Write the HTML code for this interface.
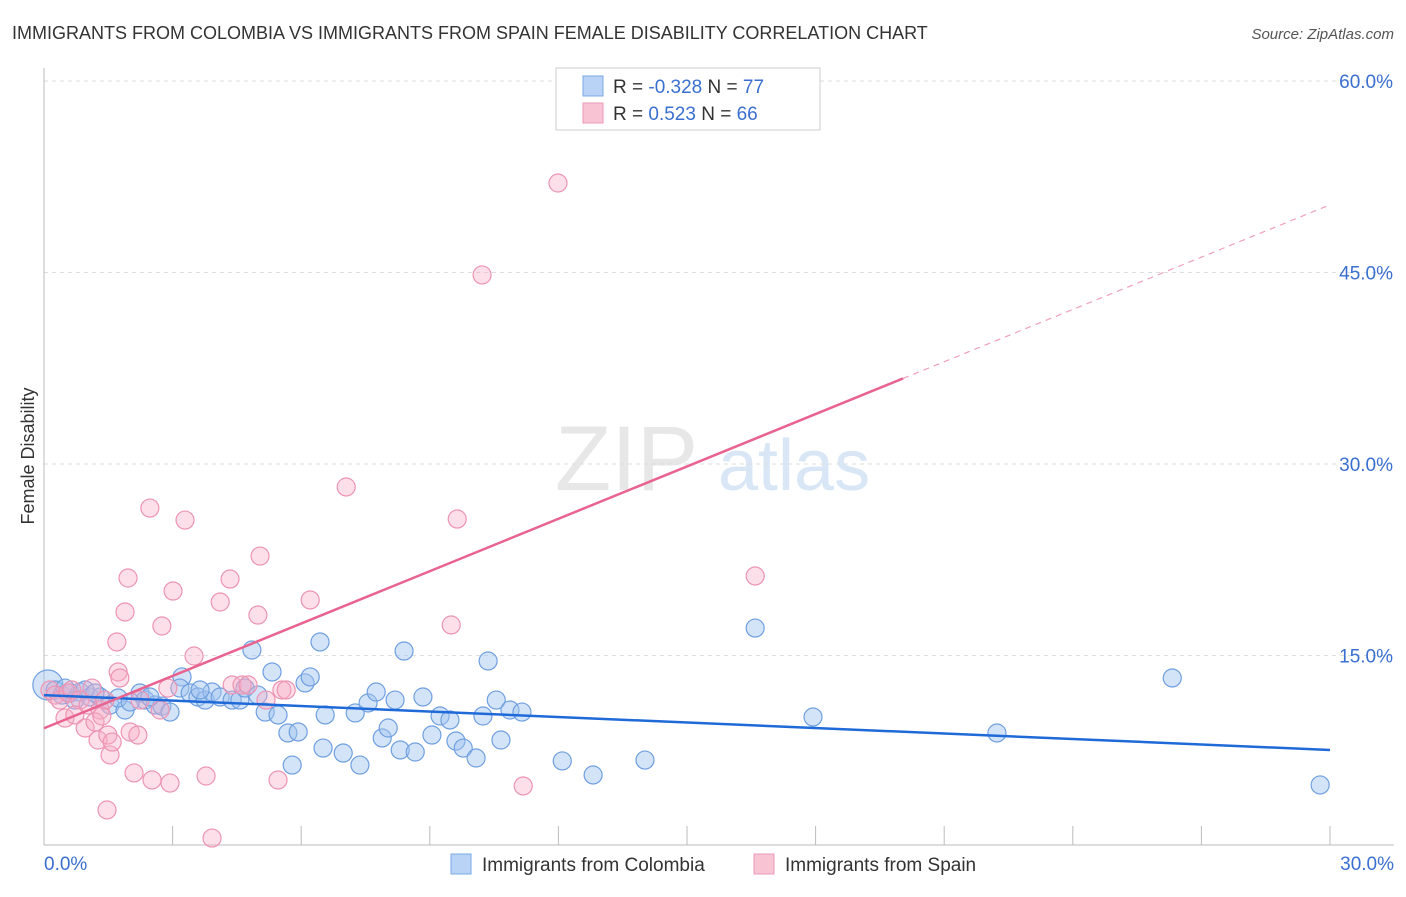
<!DOCTYPE html>
<html><head><meta charset="utf-8"><style>
body{margin:0;background:#fff;font-family:"Liberation Sans",sans-serif}
svg text{font-family:"Liberation Sans",sans-serif}
</style></head><body>
<svg id="c" width="1406" height="892" xmlns="http://www.w3.org/2000/svg">
<text x="12" y="39" font-size="18" fill="#333">IMMIGRANTS FROM COLOMBIA VS IMMIGRANTS FROM SPAIN FEMALE DISABILITY CORRELATION CHART</text>
<text x="1394" y="39" font-size="15" fill="#555" font-style="italic" text-anchor="end">Source: ZipAtlas.com</text>
<text x="34" y="456" font-size="18" fill="#333" text-anchor="middle" transform="rotate(-90 34 456)">Female Disability</text>
<g><text x="555" y="490" font-size="92" fill="#ddd" font-family="Liberation Serif" opacity="0.7">ZIP</text><text x="718" y="490" font-size="72" fill="#c9dcf3" opacity="0.7">atlas</text></g>
<g id="grid"></g><g id="axes"></g><g id="pts"></g><g id="lines"></g>
<g>
<rect x="556" y="68" width="264" height="62" fill="#fff" stroke="#ccc"/>
<rect x="583" y="76" width="20" height="20" fill="#b8d3f5" stroke="#7aa8e6"/>
<rect x="583" y="103" width="20" height="20" fill="#f8c3d3" stroke="#eb9ab5"/>
<text x="613" y="93" font-size="19" fill="#333">R = <tspan fill="#3a6fd0">-0.328</tspan>   N = <tspan fill="#3a6fd0">77</tspan></text>
<text x="613" y="120" font-size="19" fill="#333">R =  <tspan fill="#3a6fd0">0.523</tspan>   N = <tspan fill="#3a6fd0">66</tspan></text>
</g>
<g>
<rect x="451" y="854" width="20" height="20" fill="#b8d3f5" stroke="#7aa8e6"/>
<text x="482" y="871" font-size="19" fill="#333">Immigrants from Colombia</text>
<rect x="754" y="854" width="20" height="20" fill="#f8c3d3" stroke="#eb9ab5"/>
<text x="785" y="871" font-size="19" fill="#333">Immigrants from Spain</text>
</g>
</svg>
<script>
const yTicks=[15,30,45,60];
const xTickLabels=["0.0%","30.0%"];
const colX=[0.09,0.26,0.42,0.61,0.84,1.07,1.31,1.54,1.89,1.73,2.24,2.36,2.59,2.75,2.94,3.22,3.17,3.41,3.59,3.76,3.92,4.11,4.39,4.57,4.69,4.85,4.99,5.16,5.32,5.46,5.69,5.79,5.93,6.09,6.21,6.44,6.56,6.51,6.98,7.26,7.37,7.56,7.75,7.89,8.03,8.19,8.31,8.4,8.66,8.84,9.05,9.24,9.47,9.61,9.78,10.08,10.24,10.36,10.55,10.66,10.87,11.15,12.09,12.81,14.02,16.59,17.94,22.23,26.32,29.77,0.49,0.72,0.96,1.19,2.01,2.47,3.64];
const colY=[12.69,12.3,11.9,12.06,12.14,11.75,11.75,11.12,10.73,11.67,12.06,11.51,11.12,11.04,10.57,13.32,12.45,12.06,11.75,11.51,12.14,11.75,11.51,11.51,12.45,15.43,11.9,10.57,13.71,10.34,8.93,6.42,9.01,12.85,13.32,16.06,10.34,7.75,7.36,10.5,6.42,11.28,12.14,8.54,9.32,11.51,7.6,15.35,7.44,11.75,8.77,10.26,9.95,8.3,7.75,6.97,10.26,14.57,11.51,8.38,10.73,10.57,6.74,5.64,6.81,17.15,10.18,8.93,13.24,4.86,12.45,11.51,12.3,12.06,11.36,11.75,12.3];
const spX=[0.14,0.26,0.37,0.56,0.65,0.84,1.03,1.12,1.31,0.49,0.72,0.96,1.19,1.26,1.35,1.49,1.54,1.59,1.73,1.77,1.96,1.89,1.7,2.01,2.19,2.1,1.47,2.47,2.52,2.75,2.94,3.01,3.29,3.5,3.78,3.92,4.11,4.34,4.39,4.62,4.76,4.99,5.04,5.18,5.46,5.55,5.65,6.21,7.05,9.5,9.64,10.22,11.18,11.99,16.59,2.89,2.24,2.71,1.42];
const spY=[12.3,11.9,11.51,12.06,12.3,11.51,11.12,12.45,10.73,10.1,10.34,9.32,9.79,8.38,10.26,8.77,7.21,8.22,13.71,13.24,21.07,18.41,16.06,9.01,8.77,5.8,2.9,26.55,5.25,17.31,5.01,20.05,25.61,14.96,5.56,0.7,19.19,20.99,12.69,12.69,12.69,18.17,22.79,11.51,5.25,12.3,12.3,19.35,28.2,17.39,25.69,44.81,4.78,52.01,21.23,12.45,11.51,10.73,11.51];
const colTrend=[11.9,7.6];   // y at x=0 and x=30
const spTrend=[9.3,36.7,50.3]; // y at x=0, x=20.04 (solid end), x=30
const spSolidEnd=20.04;
const X=v=>44+v/30*1286, Y=v=>847-v/15*191.5;
const NS="http://www.w3.org/2000/svg";
function mk(p,t,a){const e=document.createElementNS(NS,t);for(const k in a)e.setAttribute(k,a[k]);p.appendChild(e);return e;}
const grid=document.getElementById('grid'),axes=document.getElementById('axes'),pts=document.getElementById('pts'),lines=document.getElementById('lines');
yTicks.forEach(t=>{
 const l=mk(grid,'line',{x1:44,x2:1394,y1:Y(t),y2:Y(t),stroke:'#ddd','stroke-dasharray':'4,4'});
 
 
 const tx=mk(grid,'text',{x:1393,y:Y(t)+7,'font-size':19,fill:'#3a6fd0','text-anchor':'end'});tx.textContent=t.toFixed(1)+'%';
 
 
});
mk(axes,'line',{x1:44,x2:44,y1:68,y2:845,stroke:'#bbb'});
mk(axes,'line',{x1:44,x2:1394,y1:845,y2:845,stroke:'#bbb'});
for(let i=0;i<=10;i++){const t=mk(axes,'line',{x1:X(i*3),x2:X(i*3),y1:826,y2:845,stroke:'#bbb'});
 
 }
const xl0=mk(axes,'text',{x:44,y:870,'font-size':19,fill:'#3a6fd0'});xl0.textContent=xTickLabels[0];


const xl1=mk(axes,'text',{x:1394,y:870,'font-size':19,fill:'#3a6fd0','text-anchor':'end'});xl1.textContent=xTickLabels[1];


colX.forEach((v,i)=>{const c=mk(pts,'circle',{cx:X(v),cy:Y(colY[i]),r:i==0?15:9,fill:'rgba(160,196,240,0.45)',stroke:'#6f9fe0','stroke-width':1.2});
 
 });
spX.forEach((v,i)=>{const c=mk(pts,'circle',{cx:X(v),cy:Y(spY[i]),r:9,fill:'rgba(246,170,196,0.38)',stroke:'#ec94b3','stroke-width':1.2});
 
 });
const bl=mk(lines,'line',{x1:X(0),y1:Y(colTrend[0]),x2:X(30),y2:Y(colTrend[1]),stroke:'#1f6ad8','stroke-width':2.5});


const pl=mk(lines,'line',{x1:X(0),y1:Y(spTrend[0]),x2:X(spSolidEnd),y2:Y(spTrend[1]),stroke:'#e8638f','stroke-width':2.5});


const pd=mk(lines,'line',{x1:X(spSolidEnd),y1:Y(spTrend[1]),x2:X(30),y2:Y(spTrend[2]),stroke:'#f0a0b8','stroke-width':1.2,'stroke-dasharray':'6,5'});


</script>
</body></html>
